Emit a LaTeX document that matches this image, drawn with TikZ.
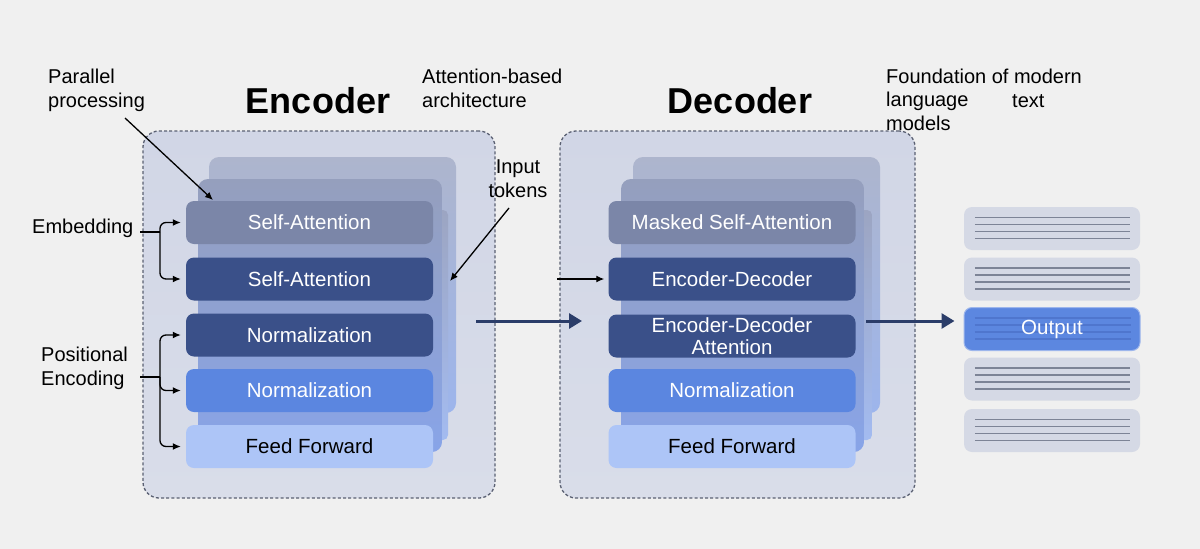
\documentclass[tikz,border=0pt]{standalone}
\usepackage{fontspec}
\setmainfont{Liberation Sans}
\usetikzlibrary{arrows.meta}
\definecolor{bg}{HTML}{F0F0F0}
\definecolor{frame}{HTML}{5A6072}
\definecolor{boxtop}{HTML}{D1D6E6}
\definecolor{boxbot}{HTML}{D9DDE9}
\definecolor{cgray}{HTML}{7B86A8}
\definecolor{cdark}{HTML}{3A5089}
\definecolor{cmed}{HTML}{5B86E0}
\definecolor{clight}{HTML}{ADC5F7}
\definecolor{bkatop}{HTML}{ADB5CD}
\definecolor{bkamid}{HTML}{8A9DD2}
\definecolor{bkabot}{HTML}{9DB5EC}
\definecolor{bkbtop}{HTML}{959FBD}
\definecolor{bkbmid}{HTML}{4C64A8}
\definecolor{bkbbot}{HTML}{88A4E8}
\definecolor{bkctop}{HTML}{9CA5C2}
\definecolor{bkcmid}{HTML}{6E8BD6}
\definecolor{bkcbot}{HTML}{A3BBF0}
\definecolor{outbox}{HTML}{D5D9E5}
\definecolor{outline}{HTML}{7D8496}
\definecolor{outblue}{HTML}{5C87E0}
\definecolor{outbline}{HTML}{4F76CE}
\definecolor{navy}{HTML}{2B3D69}
\begin{document}
\begin{tikzpicture}[x=1pt,y=-1pt,
  lbl/.style={font=\fontsize{20}{23.5}\selectfont, inner sep=0pt, text=black, align=left},
  ttl/.style={font=\fontsize{36}{40}\selectfont\bfseries, inner sep=0pt, text=black},
  frame/.style={draw=frame, dash pattern=on 3pt off 2.2pt, line width=1.3pt, rounded corners=16pt, top color=boxtop, bottom color=boxbot, inner sep=0pt, minimum height=367pt},
  backa/.style={rounded corners=10pt, top color=bkatop, middle color=bkamid, bottom color=bkabot, inner sep=0pt, minimum width=247pt, minimum height=256pt},
  backb/.style={rounded corners=10pt, top color=bkbtop, middle color=bkbmid, bottom color=bkbbot, inner sep=0pt, minimum height=273pt},
  backc/.style={rounded corners=5pt, top color=bkctop, middle color=bkcmid, bottom color=bkcbot, inner sep=0pt, minimum width=14pt, minimum height=230pt},
  layer/.style={rounded corners=8pt, inner sep=0pt, minimum width=247pt, minimum height=43pt, text=white, align=center, font=\fontsize{20.5}{22.5}\selectfont},
  obox/.style={rounded corners=8pt, fill=outbox, inner sep=0pt, minimum width=176pt, minimum height=43pt},
  oline/.style={draw=outline, line width=1.3pt},
  big/.style={draw=navy, line width=3pt, -{Triangle[length=13pt,width=15pt]}},
  thin/.style={draw=black, line width=1.3pt, -{Latex[length=8pt,width=7pt]}},
  brk/.style={draw=black, line width=1.3pt, rounded corners=6pt}
]
\useasboundingbox (0,0) rectangle (1200,549);
\fill[bg] (0,0) rectangle (1200,549);

% ---------- Encoder ----------
\node[frame, minimum width=352pt] (encbox) at (319,314.5) {};
\node[backa] (eb1) at (332.5,285) {};
\node[backc] (eb3) at (441,325) {};
\node[backb, minimum width=244pt] (eb2) at (320,315.5) {};
\node[layer, fill=cgray] (e1) at (309.5,222.5) {Self-Attention};
\node[layer, fill=cdark] (e2) at (309.5,279) {Self-Attention};
\node[layer, fill=cdark] (e3) at (309.5,335) {Normalization};
\node[layer, fill=cmed] (e4) at (309.5,390.5) {Normalization};
\node[layer, fill=clight, text=black] (e5) at (309.5,446.5) {Feed Forward};
\node[ttl, anchor=base] (enct) at (318,113) {Encoder};

% ---------- Decoder ----------
\node[frame, minimum width=355pt] (decbox) at (737.5,314.5) {};
\node[backa] (db1) at (756.5,285) {};
\node[backc] (db3) at (865,325) {};
\node[backb, minimum width=243pt] (db2) at (742.5,315.5) {};
\node[layer, fill=cgray] (d1) at (732,222.5) {Masked Self-Attention};
\node[layer, fill=cdark] (d2) at (732,279) {Encoder-Decoder};
\node[layer, fill=cdark] (d3) at (732,336) {Encoder-Decoder\\Attention};
\node[layer, fill=cmed] (d4) at (732,390.5) {Normalization};
\node[layer, fill=clight, text=black] (d5) at (732,446.5) {Feed Forward};
\node[ttl, anchor=base] (dect) at (740,113) {Decoder};

% ---------- Output stack ----------
\node[obox] (o1) at (1052,228.5) {};
\node[obox] (o2) at (1052,279) {};
\node[obox, fill=outblue, draw=cmed!60!white, line width=1pt] (o3) at (1052,329) {};
\node[obox] (o4) at (1052,379) {};
\node[obox] (o5) at (1052,430.5) {};
\foreach \n in {o1,o2,o4,o5}{
  \foreach \d in {-11,-4,3,10}{
    \draw[oline] ([xshift=11pt,yshift=-\d pt]\n.west) -- ([xshift=-10pt,yshift=-\d pt]\n.east);
  }
}
\foreach \d in {-11,-4,3,10}{
  \draw[draw=outbline, line width=1.3pt] ([xshift=11pt,yshift=-\d pt]o3.west) -- ([xshift=-10pt,yshift=-\d pt]o3.east);
}
\node[font=\fontsize{20.5}{21}\selectfont, text=white, inner sep=0pt] (otxt) at (o3.center) {Output};

% ---------- Arrows ----------
\coordinate (m1s) at (476,321);
\coordinate (m1e) at (582,321);
\draw[big] (m1s) -- (m1e);
\coordinate (m2s) at (866,321);
\draw[big, shorten >=9pt] (m2s) -- (o3.west |- m2s);
\coordinate (ed) at (557,279);
\draw[thin, shorten >=4pt] (ed) -- (d2.west);

% ---------- Annotations ----------
\node[lbl, anchor=base west] (par) at (48,107) {Parallel\\processing};
\node[lbl, anchor=base west] (att) at (422,107) {Attention-based\\architecture};
\node[lbl, anchor=base west] (fnd) at (886,130) {Foundation of modern\\language\\models};
\node[lbl, anchor=base west] (txt) at (1012,107) {text};
\node[lbl, anchor=base, align=center] (inp) at (518,197) {Input\\tokens};
\node[lbl, anchor=base west] (emb) at (32,233) {Embedding};
\node[lbl, anchor=base west] (pos) at (41,385) {Positional\\Encoding};

\coordinate (pp1) at (125,118);
\coordinate (pp2) at (213,200);
\draw[thin] (pp1) -- (pp2);
\coordinate (it1) at (509,208);
\coordinate (it2) at (450,281);
\draw[thin] (it1) -- (it2);

\coordinate (eb) at (160,232);
\draw[brk] (140,232) -- (eb);
\draw[brk, -{Latex[length=8pt,width=7pt]}, shorten >=5pt] (eb) |- (e1.west);
\draw[brk, -{Latex[length=8pt,width=7pt]}, shorten >=5pt] (eb) |- (e2.west);
\coordinate (pb) at (160,377);
\draw[brk] (140,377) -- (pb);
\draw[brk, -{Latex[length=8pt,width=7pt]}, shorten >=5pt] (pb) |- (e3.west);
\draw[brk, -{Latex[length=8pt,width=7pt]}, shorten >=5pt] (pb) |- (e4.west);
\draw[brk, -{Latex[length=8pt,width=7pt]}, shorten >=5pt] (pb) |- (e5.west);
\end{tikzpicture}
\end{document}
